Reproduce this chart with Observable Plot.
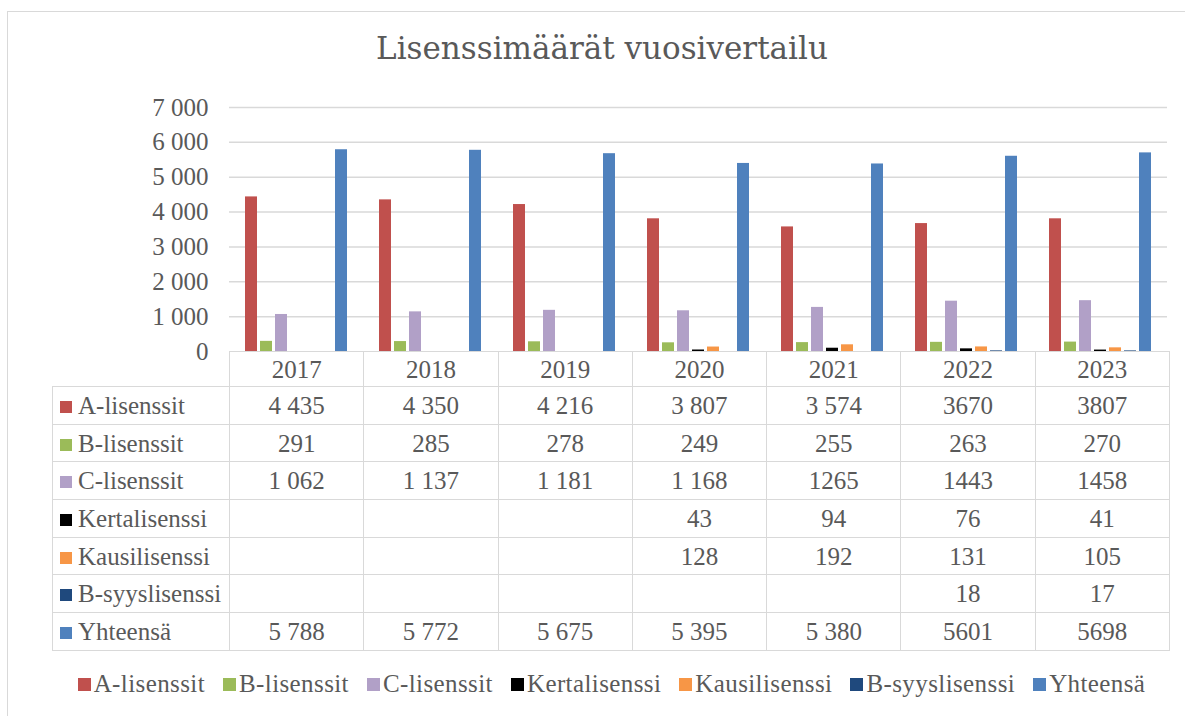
<!DOCTYPE html>
<html>
<head>
<meta charset="utf-8">
<script src="https://cdn.jsdelivr.net/npm/d3@7"></script>
<script src="https://cdn.jsdelivr.net/npm/@observablehq/plot@0.6"></script>
<style>
  html, body { margin: 0; padding: 0; background: #fff; }
  #root { position: relative; width: 1185px; height: 716px; overflow: hidden; font-family: "Liberation Serif", serif; color: #595959; }
  #frame { position: absolute; left: 7px; top: 11px; width: 1220px; height: 760px; border: 1.5px solid #d9d9d9; box-sizing: border-box; }
  #title { position: absolute; left: 0; top: 30px; width: 1204px; text-align: center; font-family: "DejaVu Serif", serif; font-size: 31px; color: #595959; }
  #chart { position: absolute; left: 0; top: 90px; }
  #table { position: absolute; left: 52px; top: 351px; border-collapse: collapse; table-layout: fixed; font-size: 25px; color: #595959; }
  #table td { border: 1.5px solid #d9d9d9; text-align: center; padding: 0; line-height: 1; white-space: nowrap; }
  #table td.corner { border-top: none; border-left: none; }
  #table td.lab { text-align: left; padding-left: 7px; }
  .sw { display: inline-block; width: 12px; height: 12px; margin-right: 6px; vertical-align: 1px; }
  #legend { position: absolute; left: 38px; width: 1147px; top: 670px; display: flex; justify-content: center; align-items: center; font-size: 25px; color: #595959; letter-spacing: 0.4px; }
  #legend .item { display: flex; align-items: center; margin: 0 9px; white-space: nowrap; }
  #legend .sw { width: 13px; height: 13px; margin-right: 3px; vertical-align: 0; }
</style>
</head>
<body>
<div id="root">
  <div id="frame"></div>
  <div id="title">Lisenssimäärät vuosivertailu</div>
  <div id="chart"></div>
  <table id="table"></table>
  <div id="legend"></div>
</div>
<script>
// ---- Data ----
const years = ["2017", "2018", "2019", "2020", "2021", "2022", "2023"];
const series = ["A-lisenssit", "B-lisenssit", "C-lisenssit", "Kertalisenssi", "Kausilisenssi", "B-syyslisenssi", "Yhteensä"];
const colors = ["#C0504D", "#9BBB59", "#B1A0C7", "#000000", "#F79646", "#1F497D", "#4F81BD"];

const aLisenssit     = [4435, 4350, 4216, 3807, 3574, 3670, 3807];
const bLisenssit     = [291, 285, 278, 249, 255, 263, 270];
const cLisenssit     = [1062, 1137, 1181, 1168, 1265, 1443, 1458];
const kertalisenssi  = [null, null, null, 43, 94, 76, 41];
const kausilisenssi  = [null, null, null, 128, 192, 131, 105];
const bSyyslisenssi  = [null, null, null, null, null, 18, 17];
const yhteensa       = [5788, 5772, 5675, 5395, 5380, 5601, 5698];

// table texts as printed in the data table
const textA     = ["4 435", "4 350", "4 216", "3 807", "3 574", "3670", "3807"];
const textB     = ["291", "285", "278", "249", "255", "263", "270"];
const textC     = ["1 062", "1 137", "1 181", "1 168", "1265", "1443", "1458"];
const textKerta = ["", "", "", "43", "94", "76", "41"];
const textKausi = ["", "", "", "128", "192", "131", "105"];
const textBsyys = ["", "", "", "", "", "18", "17"];
const textYht   = ["5 788", "5 772", "5 675", "5 395", "5 380", "5601", "5698"];

const yTicks = [0, 1000, 2000, 3000, 4000, 5000, 6000, 7000];

// ---- Build ----
const values = [aLisenssit, bLisenssit, cLisenssit, kertalisenssi, kausilisenssi, bSyyslisenssi, yhteensa];
const texts = [textA, textB, textC, textKerta, textKausi, textBsyys, textYht];

const data = [];
series.forEach((s, i) => years.forEach((y, j) => {
  const v = values[i][j];
  if (v != null) data.push({year: y, series: s, value: v});
}));

const fmt = d => d3.format(",")(d).replace(/,/g, " ");

const chart = Plot.plot({
  width: 1185,
  height: 280,
  marginTop: 17,
  marginBottom: 19,
  marginLeft: 228,
  marginRight: 17,
  style: {fontFamily: "Liberation Serif, serif", fontSize: "25px", color: "#595959", background: "transparent", overflow: "visible"},
  fx: {domain: years, paddingInner: 0, paddingOuter: 0, axis: null, label: null},
  x: {domain: series, paddingInner: 0.22, paddingOuter: 0.81, axis: null},
  y: {domain: [0, 7000], axis: null},
  color: {domain: series, range: colors},
  marks: [
    Plot.gridY(yTicks.filter(d => d > 0), {stroke: "#d9d9d9", strokeOpacity: 1, strokeWidth: 1.5}),
    Plot.axisY(yTicks, {tickFormat: fmt, tickSize: 0, tickPadding: 21, label: null, fill: "#595959"}),
    Plot.barY(data, {fx: "year", x: "series", y: "value", fill: "series"})
  ]
});
document.getElementById("chart").appendChild(chart);

// ---- Data table ----
const colW = 940 / years.length;
const table = document.getElementById("table");
const colgroup = document.createElement("colgroup");
const c0 = document.createElement("col"); c0.style.width = "177px"; colgroup.appendChild(c0);
years.forEach(() => { const c = document.createElement("col"); c.style.width = colW + "px"; colgroup.appendChild(c); });
table.appendChild(colgroup);
table.style.width = (177 + 940) + "px";

const head = document.createElement("tr");
head.style.height = "35px";
const corner = document.createElement("td"); corner.className = "corner"; head.appendChild(corner);
years.forEach(y => { const td = document.createElement("td"); td.textContent = y; head.appendChild(td); });
table.appendChild(head);

series.forEach((s, i) => {
  const tr = document.createElement("tr");
  tr.style.height = "37.7px";
  const lab = document.createElement("td"); lab.className = "lab";
  const sw = document.createElement("span"); sw.className = "sw"; sw.style.background = colors[i];
  lab.appendChild(sw); lab.appendChild(document.createTextNode(s));
  tr.appendChild(lab);
  texts[i].forEach(t => { const td = document.createElement("td"); td.textContent = t; tr.appendChild(td); });
  table.appendChild(tr);
});

// ---- Legend ----
const legend = document.getElementById("legend");
series.forEach((s, i) => {
  const it = document.createElement("div"); it.className = "item";
  const sw = document.createElement("span"); sw.className = "sw"; sw.style.background = colors[i];
  it.appendChild(sw); it.appendChild(document.createTextNode(s));
  legend.appendChild(it);
});
</script>
</body>
</html>
